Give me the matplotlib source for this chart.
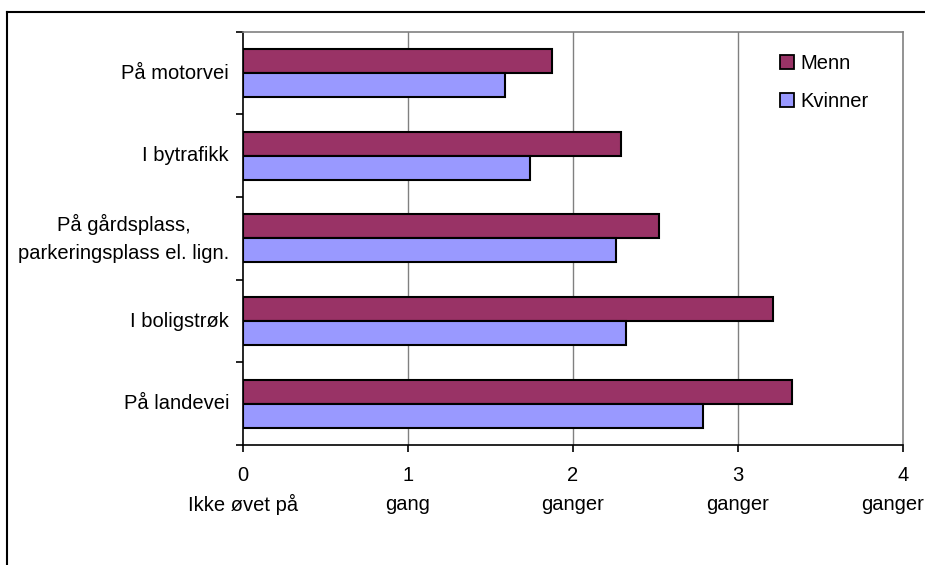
import numpy as np
import matplotlib
matplotlib.use("Agg")
import matplotlib.pyplot as plt
from matplotlib.patches import Patch
from matplotlib.lines import Line2D
import matplotlib.transforms as mtransforms

# survey answers: how many times the skill was practised
categories = ["På motorvei", "I bytrafikk", "På gårdsplass,\nparkeringsplass el. lign.",
              "I boligstrøk", "På landevei"]
menn = [1.87, 2.29, 2.52, 3.21, 3.33]
kvinner = [1.59, 1.74, 2.26, 2.32, 2.79]
tick_numbers = ["0", "1", "2", "3", "4"]
tick_words = ["Ikke øvet på", "gang", "ganger", "ganger", "ganger"]

c_menn = "#993366"
c_kvinner = "#9999FF"

plt.rcParams.update({
    "font.family": ["Liberation Sans", "DejaVu Sans"],
    "font.size": 14.5,
})

W, H = 925, 565
fig = plt.figure(figsize=(W / 100, H / 100), dpi=100)
ax = fig.add_axes([243 / W, 1 - 445 / H, (903 - 243) / W, (445 - 31.7) / H])

y = np.arange(len(categories))
bh = 0.29
ax.barh(y - bh / 2, menn, height=bh, color=c_menn, edgecolor="black", linewidth=1.5, zorder=3)
ax.barh(y + bh / 2, kvinner, height=bh, color=c_kvinner, edgecolor="black", linewidth=1.5, zorder=3)

ax.set_xlim(0, 4)
ax.set_ylim(len(categories) - 0.5, -0.5)

# vertical gridlines
for gx in [1, 2, 3]:
    ax.axvline(gx, color="#808080", linewidth=1.0, zorder=1)

# frame: black axes left/bottom, grey plot-area border top/right
ax.spines["left"].set_color("black")
ax.spines["bottom"].set_color("black")
ax.spines["left"].set_linewidth(1.2)
ax.spines["bottom"].set_linewidth(1.2)
for s in ["top", "right"]:
    ax.spines[s].set_color("#808080")
    ax.spines[s].set_linewidth(1.2)

# category labels at centres, tick marks at boundaries
ax.set_yticks(y)
ax.set_yticklabels(categories, linespacing=1.55, ha="right", va="center",
                   multialignment="center")
ax.tick_params(axis="y", length=0, pad=10)
ax.set_yticks(np.arange(len(categories) + 1) - 0.5, minor=True)
ax.tick_params(axis="y", which="minor", length=5, width=1.2, direction="out")

ax.set_xticks(range(5))
ax.set_xticklabels(tick_numbers)
ax.tick_params(axis="x", length=5, width=1.2, direction="out", pad=10)

# second line under the numbers
trans = mtransforms.blended_transform_factory(ax.transData, ax.transAxes)
for i, w in enumerate(tick_words):
    if i == len(tick_words) - 1:
        fig.text(924 / W, 1 - 505 / H, w, ha="right", va="center")
    else:
        ax.text(i, -0.145, w, transform=trans, ha="center", va="center")

handles = [Patch(facecolor=c_menn, edgecolor="black", linewidth=1.3, label="Menn"),
           Patch(facecolor=c_kvinner, edgecolor="black", linewidth=1.3, label="Kvinner")]
ax.legend(handles=handles, loc="upper left", bbox_to_anchor=(780 / W, 1 - 54 / H),
          bbox_transform=fig.transFigure, frameon=False, borderpad=0, borderaxespad=0,
          handlelength=0.7, handleheight=0.7, handletextpad=0.3, labelspacing=0.95)

# chart border (top and left edges)
fig.add_artist(Line2D([7 / W, 1], [1 - 12 / H, 1 - 12 / H], color="black", linewidth=1.5,
                      transform=fig.transFigure))
fig.add_artist(Line2D([7 / W, 7 / W], [0, 1 - 12 / H], color="black", linewidth=1.5,
                      transform=fig.transFigure))

fig.savefig("out.png", dpi=100)
